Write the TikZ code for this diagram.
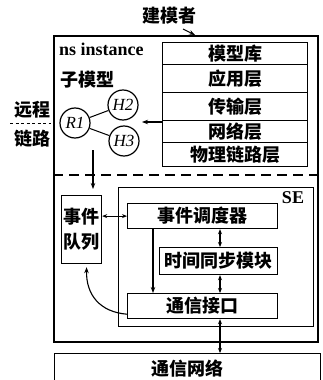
\documentclass[tikz,border=0pt]{standalone}
\usepackage{fontspec}
\setmainfont{Liberation Serif}
\newfontfamily\cjk{Noto Sans CJK SC}
\usetikzlibrary{arrows.meta}
\begin{document}
\begin{tikzpicture}[x=1pt,y=-1pt,
  cjkfont/.style={font=\cjk\bfseries\fontsize{18}{20}\selectfont},
  box/.style={draw,line width=1.2pt,inner sep=0pt,anchor=north west,cjkfont},
  lab/.style={cjkfont,inner sep=0pt},
  circ/.style={draw,circle,line width=1.2pt,minimum size=30pt,inner sep=0pt,font=\itshape\fontsize{17}{17}\selectfont},
  arr/.style={line width=1.1pt,-{Stealth[length=6pt,width=4.5pt]}},
  darr/.style={line width=1.1pt,{Stealth[length=5pt,width=4pt]}-{Stealth[length=5pt,width=4pt]}},
]
\clip (0,0) rectangle (322,380);
% outer ns instance box
\node[box,line width=1.6pt,minimum width=264pt,minimum height=306pt] (outer) at (53,35) {};
% labels
\node[lab] (modeler) at (169,16) {建模者};
\node[font=\bfseries\fontsize{18}{18}\selectfont,anchor=west,inner sep=0pt] (ns) at (59,49) {ns instance};
\node[lab] (sub) at (87,80) {子模型};
\node[lab] (remote) at (32,110) {远程};
\node[lab] (link) at (32,139) {链路};
% layer stack
\node[box,minimum width=145pt,minimum height=22pt] (lib) at (162,42) {模型库};
\node[box,minimum width=145pt,minimum height=28pt] (app) at (162,64) {应用层};
\node[box,minimum width=145pt,minimum height=28pt] (trans) at (162,92) {传输层};
\node[box,minimum width=145pt,minimum height=22pt] (net) at (162,120) {网络层};
\node[box,minimum width=145pt,minimum height=24pt] (phys) at (162,142) {物理链路层};
% sub model circles
\node[circ] (r1) at (75,123) {R1};
\node[circ] (h2) at (123,105) {H2};
\node[circ] (h3) at (124,141) {H3};
\draw[line width=1pt] (r1) -- (h2);
\draw[line width=1pt] (r1) -- (h3);
% modeler arrow
\coordinate (ms) at (183,29);
\coordinate (me) at (195,35);
\draw[arr] (ms) -- (me);
% stack to submodel arrow
\coordinate (tipA) at (142,122);
\draw[arr] (tipA -| net.west) -- (tipA);
% left dashed
\coordinate (ld1) at (10,123);
\coordinate (ld2) at (51,123);
\draw[line width=1pt,dash pattern=on 3pt off 2.5pt] (ld1) -- (ld2);
% middle dashed line
\coordinate (dl) at (53,175);
\draw[line width=1.3pt,dash pattern=on 10pt off 6pt] (outer.west |- dl) -- (outer.east |- dl);
% lower part
\node[box,minimum width=40pt,minimum height=68pt,align=center] (queue) at (61,195) {事件\\[5pt]队列};
\node[box,minimum width=195pt,minimum height=139pt] (se) at (118,187) {};
\node[font=\bfseries\fontsize{18}{18}\selectfont,inner sep=0pt] (selab) at (293,198) {SE};
\node[box,minimum width=150pt,minimum height=25pt] (sched) at (127,203) {事件调度器};
\node[box,minimum width=118pt,minimum height=27pt] (sync) at (159,247) {时间同步模块};
\node[box,minimum width=150pt,minimum height=25pt] (comm) at (127,293) {通信接口};
\node[box,line width=1.4pt,minimum width=266pt,minimum height=30pt] (network) at (54,353) {通信网络};
% arrows
\coordinate (ds) at (93,150);
\draw[arr,shorten >=6pt] (ds) -- (ds |- queue.north);
\draw[darr] (queue.east |- sched.west) -- (sched.west);
\coordinate (vx) at (153,0);
\draw[arr] (sched.south -| vx) -- (comm.north -| vx);
\coordinate (dx) at (220,0);
\draw[darr] (sched.south -| dx) -- (sync.north -| dx);
\draw[darr] (sync.south -| dx) -- (comm.north -| dx);
\draw[darr] (comm.south -| dx) -- (network.north -| dx);
\draw[arr] ([yshift=5pt]comm.south west) .. controls (100,312) and (86,295) .. ([xshift=5pt,yshift=-3pt]queue.south);
\end{tikzpicture}
\end{document}
